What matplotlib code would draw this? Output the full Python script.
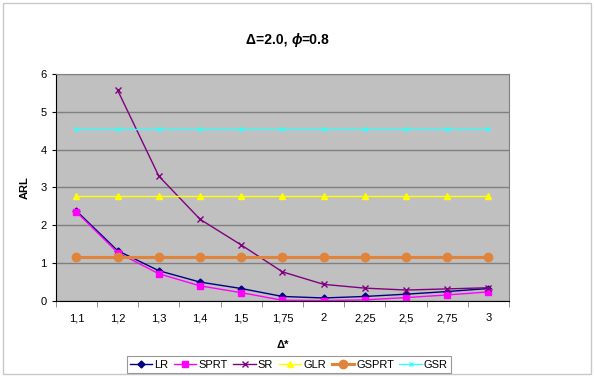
import numpy as np
import matplotlib
matplotlib.use('Agg')
import matplotlib.pyplot as plt
from matplotlib.patches import Rectangle

plt.rcParams['font.family'] = ['Liberation Sans', 'DejaVu Sans']

categories = ['1,1', '1,2', '1,3', '1,4', '1,5', '1,75', '2', '2,25', '2,5', '2,75', '3']
lr = [2.38, 1.33, 0.80, 0.50, 0.33, 0.12, 0.08, 0.12, 0.18, 0.25, 0.33]
sprt = [2.35, 1.28, 0.72, 0.40, 0.22, 0.02, 0.01, 0.03, 0.09, 0.16, 0.24]
sr = [np.nan, 5.57, 3.30, 2.16, 1.48, 0.77, 0.44, 0.34, 0.29, 0.32, 0.35]
glr = [2.77] * 11
gsprt = [1.15] * 11
gsr = [4.55] * 11

fig = plt.figure(figsize=(5.94, 3.77), dpi=100)
fig.patches.append(Rectangle((0.005, 0.008), 0.99, 0.985, transform=fig.transFigure,
                             fill=False, edgecolor='#c8c8c8', linewidth=1))
ax = fig.add_axes([0.094, 0.2016, 0.763, 0.6022])
ax.set_facecolor('#c0c0c0')

x = np.arange(len(categories))
ax.plot(x, lr, color='#000080', marker='D', markersize=3.5, linewidth=1, label='LR')
ax.plot(x, sprt, color='#ff00ff', marker='s', markersize=5, linewidth=1, label='SPRT')
ax.plot(x, sr, color='#800080', marker='x', markersize=4, linewidth=1, label='SR')
ax.plot(x, glr, color='#ffff00', marker='^', markersize=5, linewidth=1, label='GLR')
ax.plot(x, gsprt, color='#e0843c', marker='o', markersize=6, linewidth=2.2, label='GSPRT')
ax.plot(x, gsr, color='#33ffff', marker='x', markersize=3.5, linewidth=1, label='GSR')

ax.set_xlim(-0.5, len(categories) - 0.5)
ax.set_ylim(0, 6)
ax.set_yticks(range(7))
ax.yaxis.grid(True, color='#808080', linewidth=1)
ax.set_axisbelow(True)
ax.set_xticks(x)
ax.set_xticklabels(categories)
ax.set_xticks(np.arange(-0.5, len(categories)), minor=True)
ax.tick_params(axis='x', which='major', length=0, pad=9, labelsize=8)
ax.tick_params(axis='x', which='minor', length=4, color='#808080')
ax.tick_params(axis='y', length=3, labelsize=8)
for side in ['top', 'right']:
    ax.spines[side].set_color('#808080')
ax.spines['left'].set_color('black')
ax.spines['bottom'].set_color('black')

ax.set_ylabel('ARL', fontsize=8, fontweight='bold', labelpad=8)
ax.set_xlabel('Δ*', fontsize=8, fontweight='bold', labelpad=12)

# title: Δ=2.0, ϕ=0.8 (phi in italic)
fig.text(0.49, 0.895, 'Δ=2.0, ', fontsize=10, fontweight='bold', ha='right', va='center')
fig.text(0.49, 0.895, 'ϕ', fontsize=10, fontweight='bold', style='italic', ha='left', va='center')
fig.text(0.507, 0.895, '=0.8', fontsize=10, fontweight='bold', ha='left', va='center')

leg = fig.legend(loc='center', bbox_to_anchor=(0.4865, 0.033), ncol=6, fontsize=8,
                 frameon=True, fancybox=False, edgecolor='#808080', handlelength=2.0,
                 handletextpad=0.2, columnspacing=0.5, borderpad=0.3)
leg.get_frame().set_linewidth(0.8)

fig.savefig('out.png', dpi=100)
